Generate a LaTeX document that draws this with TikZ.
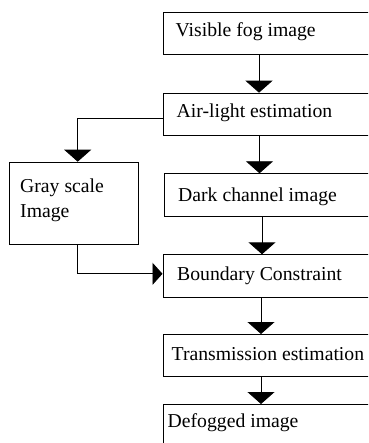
\documentclass[tikz,border=0pt]{standalone}
\usepackage{fontspec}
\setmainfont{Liberation Serif}
\usetikzlibrary{arrows.meta}
\begin{document}
\begin{tikzpicture}[x=1pt,y=1pt,
  box/.style={draw=black,line width=0.9pt,rectangle,inner sep=0pt,anchor=north west},
  lbl/.style={inner sep=0pt,anchor=base west,font=\fontsize{19.7}{23}\selectfont},
  conn/.style={draw=black,line width=0.9pt},
  varr/.style={conn,-{Triangle[width=27pt,length=12pt]}},
  harr/.style={conn,-{Triangle[width=22pt,length=10pt]}}]
\useasboundingbox (0,0) rectangle (368,-443);
\clip (0,0) rectangle (368,-443);
% boxes
\node[box,minimum width=240pt,minimum height=41.7pt] (b1) at (162.5,-12.3) {};
\node[box,minimum width=240pt,minimum height=42.3pt] (b2) at (163.3,-92.7) {};
\node[box,minimum width=240pt,minimum height=42.7pt] (b3) at (164.3,-173.3) {};
\node[box,minimum width=240pt,minimum height=42.4pt] (b4) at (162.5,-254.3) {};
\node[box,minimum width=240pt,minimum height=42pt] (b5) at (163.3,-334) {};
\node[box,minimum width=240pt,minimum height=60pt] (b6) at (163.3,-404) {};
\node[box,minimum width=129pt,minimum height=82.6pt] (g) at (9.3,-161.7) {};
% labels
\node[lbl] (t1) at (175.5,-36.5) {Visible fog image};
\node[lbl] (t2) at (176.5,-118) {Air-light estimation};
\node[lbl] (t3) at (178,-202) {Dark channel image};
\node[lbl] (t4) at (177,-280.5) {Boundary Constraint};
\node[lbl] (t5) at (171.5,-360) {Transmission estimation};
\node[lbl] (t6) at (167.5,-427) {Defogged image};
\node[lbl] (tg1) at (20,-193) {Gray scale};
\node[lbl] (tg2) at (20,-217) {Image};
% connectors
\draw[varr] ([xshift=96.5pt]b1.south west) -- ([xshift=95.7pt]b2.north west);
\draw[varr] ([xshift=96.2pt]b2.south west) -- ([xshift=95.2pt]b3.north west);
\draw[varr] ([xshift=97.7pt]b3.south west) -- ([xshift=99.5pt]b4.north west);
\draw[varr] ([xshift=98.5pt]b4.south west) -- ([xshift=97.7pt]b5.north west);
\draw[varr] ([xshift=97.7pt]b5.south west) -- ([xshift=97.7pt]b6.north west);
\draw[varr] ([yshift=-25.6pt]b2.north west) -| ([xshift=68.4pt]g.north west);
\draw[harr] ([xshift=68.4pt]g.south west) |- ([yshift=-19.5pt]b4.north west);
\end{tikzpicture}
\end{document}
